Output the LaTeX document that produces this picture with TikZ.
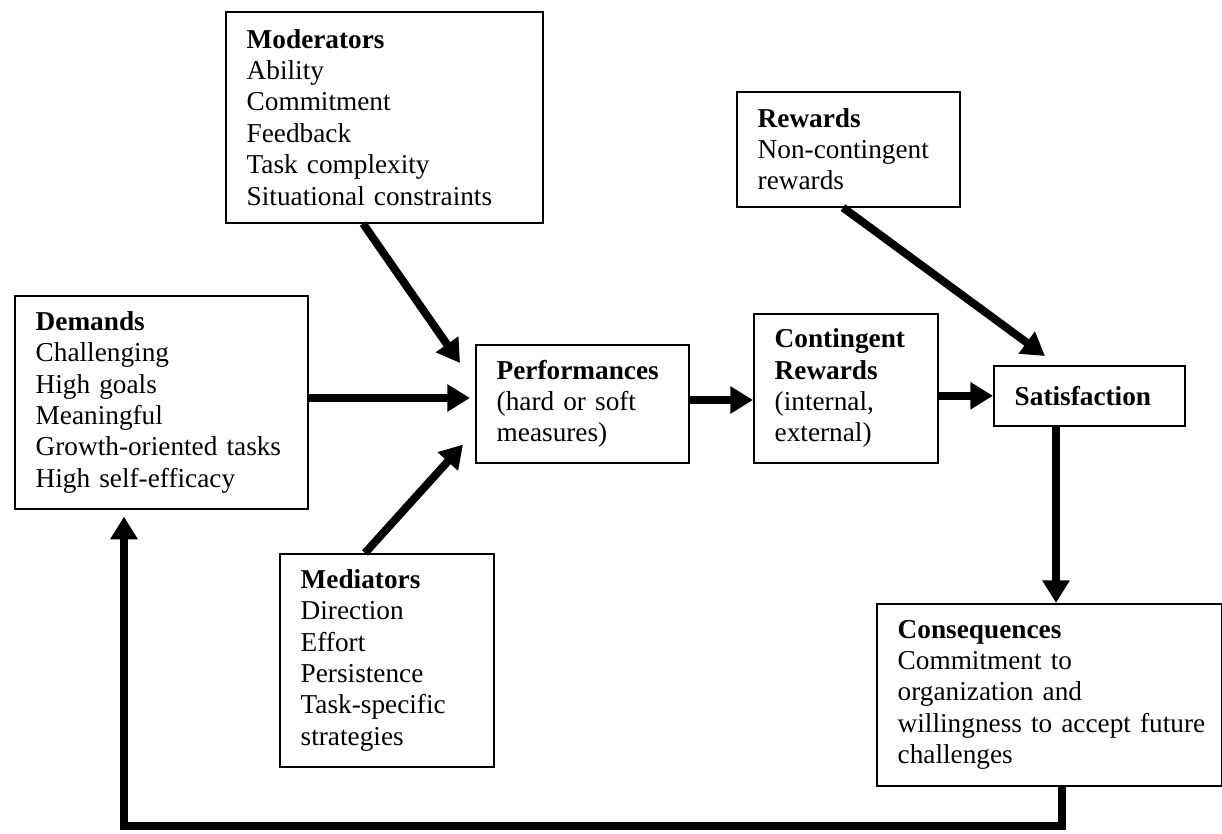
\documentclass[tikz,border=0pt]{standalone}
\usepackage{fontspec}
\setmainfont{Liberation Serif}
\usetikzlibrary{arrows.meta,calc}

\tikzset{
  box/.style={draw, line width=0.7pt, anchor=north west, align=left,
    inner xsep=9.2pt, inner ysep=0pt, font=\fontsize{12}{13.8}\selectfont},
  arr/.style={line width=3.5pt, -{Triangle[length=10pt,width=11.5pt]}}
}

\begin{document}
\begin{tikzpicture}[x=0.44pt, y=-0.44pt]
\useasboundingbox (0,0) rectangle (1222,833);

% boxes (positions in pixel units, y downwards)
\node[box, minimum width=139.48pt, minimum height=92.84pt, text width=121.08pt]
  (mod) at (225,11) {\textbf{Moderators}\\Ability\\Commitment\\Feedback\\Task complexity\\Situational constraints};
\node[box, minimum width=98.12pt, minimum height=50.6pt, text width=79.72pt]
  (rew) at (736,91) {\textbf{Rewards}\\Non-contingent\\rewards};
\node[box, minimum width=128.92pt, minimum height=93.72pt, text width=110.52pt]
  (dem) at (14,295) {\textbf{Demands}\\Challenging\\High goals\\Meaningful\\Growth-oriented tasks\\High self-efficacy};
\node[box, minimum width=93.72pt, minimum height=51.92pt, text width=75.32pt]
  (perf) at (475,344) {\textbf{Performances}\\(hard or soft\\measures)};
\node[box, minimum width=80.96pt, minimum height=65.56pt, text width=62.56pt]
  (cont) at (753,313) {\textbf{Contingent}\\\textbf{Rewards}\\(internal,\\external)};
\node[box, minimum width=84.04pt, minimum height=26.4pt, text width=65.64pt]
  (sat) at (993,365) {\textbf{Satisfaction}};
\node[box, minimum width=94.16pt, minimum height=93.72pt, text width=75.76pt]
  (med) at (279,553) {\textbf{Mediators}\\Direction\\Effort\\Persistence\\Task-specific\\strategies};
\node[box, minimum width=151.8pt, minimum height=80.08pt, text width=133.4pt]
  (cons) at (876,603) {\textbf{Consequences}\\Commitment to\\organization and\\\mbox{willingness to accept future}\\challenges};

% connectors
\draw[arr] ($(mod.south west)+(138,0)$) -- ($(perf.north west)+(-15,19)$);
\draw[arr] ($(med.north west)+(86,0)$) -- ($(perf.south west)+(-12,-19)$);
\coordinate (d1) at ($(dem.north east)+(0,103)$);
\draw[arr] (d1) -- ($(d1 -| perf.west)+(-5,0)$);
\coordinate (p1) at ($(perf.north east)+(0,56)$);
\draw[arr] (p1) -- (p1 -| cont.west);
\draw[arr] (sat.west -| cont.east) -- (sat.west);
\draw[arr] ($(rew.south west)+(107,0)$) -- ($(sat.north west)+(52,-9)$);
\coordinate (s1) at ($(sat.south west)+(63,0)$);
\draw[arr] (s1) -- (s1 |- cons.north);
\coordinate (c1) at ($(cons.south west)+(186,0)$);
\coordinate (corner) at ($(dem.south west)+(110,316)$);
\draw[arr] (c1) |- (corner) -- ($(dem.south west)+(110,7)$);
\end{tikzpicture}
\end{document}
